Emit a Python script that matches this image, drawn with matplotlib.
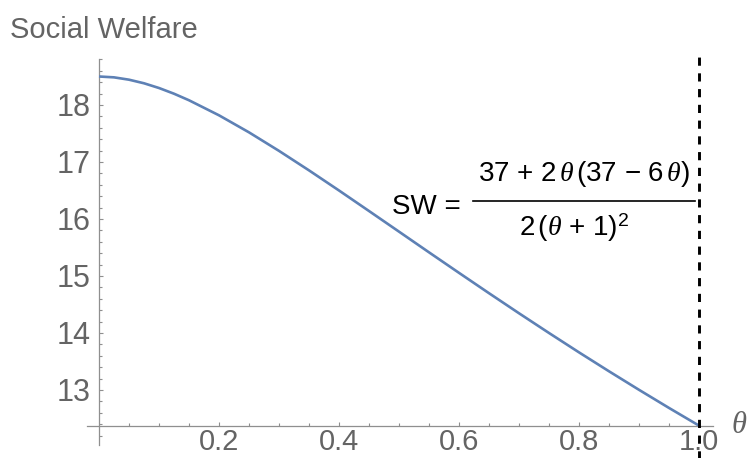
import matplotlib
matplotlib.use("Agg")
import matplotlib.pyplot as plt
from matplotlib.lines import Line2D
from matplotlib.ticker import FixedLocator

# ---- data ----
theta = [0.0, 0.025, 0.05, 0.075, 0.1, 0.125, 0.15, 0.2, 0.25, 0.3, 0.35, 0.4,
         0.45, 0.5, 0.55, 0.6, 0.65, 0.7, 0.75, 0.8, 0.85, 0.9, 0.95, 1.0]
sw = [18.500, 18.485, 18.444, 18.381, 18.298, 18.198, 18.083, 17.819, 17.520,
      17.195, 16.853, 16.500, 16.140, 15.778, 15.415, 15.055, 14.698, 14.346,
      14.000, 13.660, 13.328, 13.003, 12.685, 12.375]
x_major = [0.2, 0.4, 0.6, 0.8, 1.0]
x_labels = ["0.2", "0.4", "0.6", "0.8", "1.0"]
x_minor = [0.05, 0.1, 0.15, 0.25, 0.3, 0.35, 0.45, 0.5, 0.55, 0.65, 0.7, 0.75,
           0.85, 0.9, 0.95]
y_major = [13, 14, 15, 16, 17, 18]
y_minor = [12.2, 12.4, 12.6, 12.8, 13.2, 13.4, 13.6, 13.8, 14.2, 14.4, 14.6, 14.8,
           15.2, 15.4, 15.6, 15.8, 16.2, 16.4, 16.6, 16.8, 17.2, 17.4, 17.6, 17.8,
           18.2, 18.4, 18.6, 18.8]
boundary = 1.0
y_axis_cross = 12.375

plt.rcParams['font.family'] = ['Liberation Sans', 'DejaVu Sans']
plt.rcParams['mathtext.fontset'] = 'custom'
plt.rcParams['mathtext.it'] = 'Liberation Serif:italic'
plt.rcParams['mathtext.rm'] = 'Liberation Sans'

W, H = 749, 458
fig = plt.figure(figsize=(W / 100, H / 100), dpi=100)

def fx(px):
    return px / W

def fy(py):
    return 1 - py / H

ax = fig.add_axes([fx(87), fy(445), (713 - 87) / W, (445 - 59) / H])
ax.set_xlim(-0.02, 1.0233)
ax.set_ylim(12.035, 18.807)

axis_col = '#8f8f8f'
lab_col = '#646464'

for s in ['top', 'right']:
    ax.spines[s].set_visible(False)
ax.spines['left'].set_position(('data', 0))
ax.spines['bottom'].set_position(('data', y_axis_cross))
for s in ['left', 'bottom']:
    ax.spines[s].set_color(axis_col)
    ax.spines[s].set_linewidth(0.9)

ax.xaxis.set_major_locator(FixedLocator(x_major))
ax.xaxis.set_minor_locator(FixedLocator(x_minor))
ax.set_xticklabels(x_labels)
ax.yaxis.set_major_locator(FixedLocator(y_major))
ax.yaxis.set_minor_locator(FixedLocator(y_minor))

ax.tick_params(which='both', direction='in', color=axis_col, width=0.8,
               labelcolor=lab_col, labelsize=22)
ax.tick_params(axis='x', labelsize=21)
ax.tick_params(which='major', length=3.2)
ax.tick_params(which='minor', length=2.0)
ax.tick_params(axis='x', pad=2.0)
ax.tick_params(axis='y', pad=6.0)

ax.plot(theta, sw, color='#5E81B5', lw=1.9, solid_capstyle='butt', zorder=3)
ax.plot([boundary, boundary], [11.7, 18.87], color='black', lw=2.1,
        linestyle=(0, (2.8, 2.6)), clip_on=False, zorder=4)

# axis labels
fig.text(fx(10), fy(38), 'Social Welfare', color=lab_col, fontsize=21,
         ha='left', va='baseline')
fig.text(fx(739), fy(425), r'$\theta$', color=lab_col, fontsize=22,
         ha='center', va='center')

# formula
fig.text(fx(392), fy(207), 'SW =', color='black', fontsize=20,
         ha='left', va='center')
fig.text(fx(584), fy(174), r'37 + 2$\,\theta\,$(37 $-$ 6$\,\theta$)', color='black',
         fontsize=20, ha='center', va='center')
fig.text(fx(574), fy(228), r'2$\,$($\theta$ + 1)$^2$', color='black',
         fontsize=20, ha='center', va='center')
fig.add_artist(Line2D([fx(473), fx(695)], [fy(201), fy(201)], color='black',
                      lw=1.2, transform=fig.transFigure))

fig.savefig('out.png', dpi=100)
